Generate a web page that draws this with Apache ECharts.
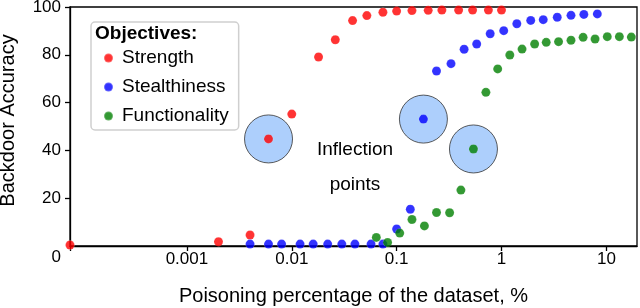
<!DOCTYPE html>
<html><head><meta charset="utf-8">
<script src="https://cdn.jsdelivr.net/npm/echarts@6/dist/echarts.min.js"></script>
<style>html,body{margin:0;padding:0;background:#fff}#c{width:640px;height:308px}</style>
</head><body><div id="c"></div>
<script>
// ---- data (x = poisoning percentage, y = backdoor accuracy) ----
const strengthX = [0, 0.002, 0.004, 0.006, 0.01, 0.018, 0.026, 0.038, 0.052, 0.074, 0.1, 0.14, 0.2, 0.27, 0.39, 0.53, 0.75, 1.0];
const strengthY = [0.4, 1.8, 4.6, 44.8, 55.2, 79.1, 86.3, 94.3, 96.4, 97.8, 98.3, 98.5, 98.6, 98.7, 98.7, 98.7, 98.7, 98.7];
const stealthX = [0.004, 0.006, 0.008, 0.012, 0.016, 0.022, 0.03, 0.04, 0.057, 0.074, 0.1, 0.135, 0.18, 0.24, 0.33, 0.44, 0.58, 0.78, 1.05, 1.4, 1.9, 2.5, 3.4, 4.6, 6.1, 8.2];
const stealthY = [0.8, 0.8, 0.8, 0.8, 0.8, 0.8, 0.8, 0.8, 0.8, 0.8, 7.1, 15.4, 53.1, 73.2, 76.3, 82.3, 84.5, 88.8, 90.1, 93.0, 94.4, 94.7, 95.7, 96.5, 96.9, 97.1];
const functX = [0.064, 0.082, 0.107, 0.14, 0.184, 0.24, 0.32, 0.41, 0.54, 0.71, 0.92, 1.2, 1.57, 2.07, 2.67, 3.5, 4.6, 6.0, 7.8, 10.2, 13.3, 17.3];
const functY = [3.6, 1.5, 5.4, 11.1, 8.4, 14.0, 13.9, 23.4, 40.6, 64.3, 74.1, 79.9, 82.4, 84.5, 85.2, 85.5, 86.1, 87.3, 86.6, 87.6, 87.6, 87.4];
const inflectionIdx = { strength: 3, stealth: 12, funct: 8 };
const xTickValues = [0.001, 0.01, 0.1, 1, 10];
const xTickLabels = ['0.001', '0.01', '0.1', '1', '10'];
const seriesNames = ['Strength', 'Stealthiness', 'Functionality'];
const seriesColors = ['#ff0000', '#0000ff', '#008000'];

// ---- axis transform: log10 with 0 pinned to the left edge ----
const X_MIN = -4.115, X_MAX = 1.292;
const tx = v => v === 0 ? X_MIN : Math.log10(v);
const pts = (xs, ys) => xs.map((x, i) => [tx(x), ys[i]]);

const FONT = '"Liberation Sans", Arial, sans-serif';
const chart = echarts.init(document.getElementById('c'), null, { renderer: 'canvas' });

const inflection = [
  [tx(strengthX[inflectionIdx.strength]), strengthY[inflectionIdx.strength]],
  [tx(stealthX[inflectionIdx.stealth]), stealthY[inflectionIdx.stealth]],
  [tx(functX[inflectionIdx.funct]), functY[inflectionIdx.funct]]
];
function scatter(name, data, color) {
  return {
    name, type: 'scatter', data, symbol: 'circle', symbolSize: 9, z: 3,
    itemStyle: { color, borderColor: 'rgba(255,255,255,0.3)', borderWidth: 0.8, borderType: 'dashed' },
    emphasis: { disabled: true }
  };
}
chart.setOption({
  animation: false,
  textStyle: { fontFamily: FONT },
  grid: { left: 70, right: 3, top: 7, bottom: 62, outerBoundsMode: 'none', show: true, borderColor: '#000', borderWidth: 1.3 },
  legend: {
    data: seriesNames, orient: 'vertical', left: 91, top: 22,
    padding: [26, 10, 4, 12], itemGap: 9, itemWidth: 9, itemHeight: 20,
    icon: 'circle', borderColor: '#cfcfcf', borderWidth: 1.5, borderRadius: 4, backgroundColor: '#fff',
    textStyle: { fontSize: 19, color: '#000', fontFamily: FONT, lineHeight: 20, padding: [0, 0, 0, 4] }
  },
  xAxis: {
    type: 'value', min: X_MIN, max: X_MAX,
    name: 'Poisoning percentage of the dataset, %', nameLocation: 'middle', nameGap: 40,
    nameTextStyle: { fontSize: 20, color: '#000', fontFamily: FONT },
    axisLine: { show: true, onZero: false, lineStyle: { color: '#000', width: 1.3 } },
    axisTick: { show: true, length: 5, lineStyle: { color: '#000', width: 1.3 }, customValues: [X_MIN].concat(xTickValues.map(tx)) },
    axisLabel: {
      show: true, fontSize: 17, color: '#000', margin: 5, fontFamily: FONT,
      customValues: xTickValues.map(tx),
      formatter: v => { const i = xTickValues.findIndex(t => Math.abs(tx(t) - v) < 1e-6); return i >= 0 ? xTickLabels[i] : ''; }
    },
    splitLine: { show: false }
  },
  yAxis: {
    type: 'value', min: 0, max: 100, interval: 20,
    name: 'Backdoor Accuracy', nameLocation: 'middle', nameGap: 52, nameRotate: 90,
    nameTextStyle: { fontSize: 20, color: '#000', fontFamily: FONT, padding: [0, 0, 0, 12] },
    axisLine: { show: true, onZero: false, lineStyle: { color: '#000', width: 1.3 } },
    axisTick: { show: true, length: 5, lineStyle: { color: '#000', width: 1.3 } },
    axisLabel: { show: true, fontSize: 17, color: '#000', margin: 9, fontFamily: FONT, showMinLabel: false, formatter: v => v === 0 ? '' : String(v) },
    splitLine: { show: false }
  },
  series: [
    { name: 'inflection', type: 'scatter', data: inflection, symbol: 'circle', symbolSize: 48, z: 1,
      itemStyle: { color: '#99c3fb', borderColor: '#333', borderWidth: 1 }, emphasis: { disabled: true }, silent: true },
    scatter(seriesNames[0], pts(strengthX, strengthY), seriesColors[0]),
    scatter(seriesNames[1], pts(stealthX, stealthY), seriesColors[1]),
    scatter(seriesNames[2], pts(functX, functY), seriesColors[2])
  ],
  graphic: [
    { type: 'text', x: 61, y: 257, z: 100, style: { text: '0', font: '17px ' + FONT, fill: '#000', align: 'right', verticalAlign: 'middle' } },
    { type: 'text', left: 95, top: 24, z: 100, style: { text: 'Objectives:', font: 'bold 19px ' + FONT, fill: '#000' } },
    { type: 'text', x: 355, y: 167, z: 100, style: { text: 'Inflection\npoints', font: '19px ' + FONT, fill: '#000', align: 'center', verticalAlign: 'middle', lineHeight: 35 } }
  ]
});
</script></body></html>
